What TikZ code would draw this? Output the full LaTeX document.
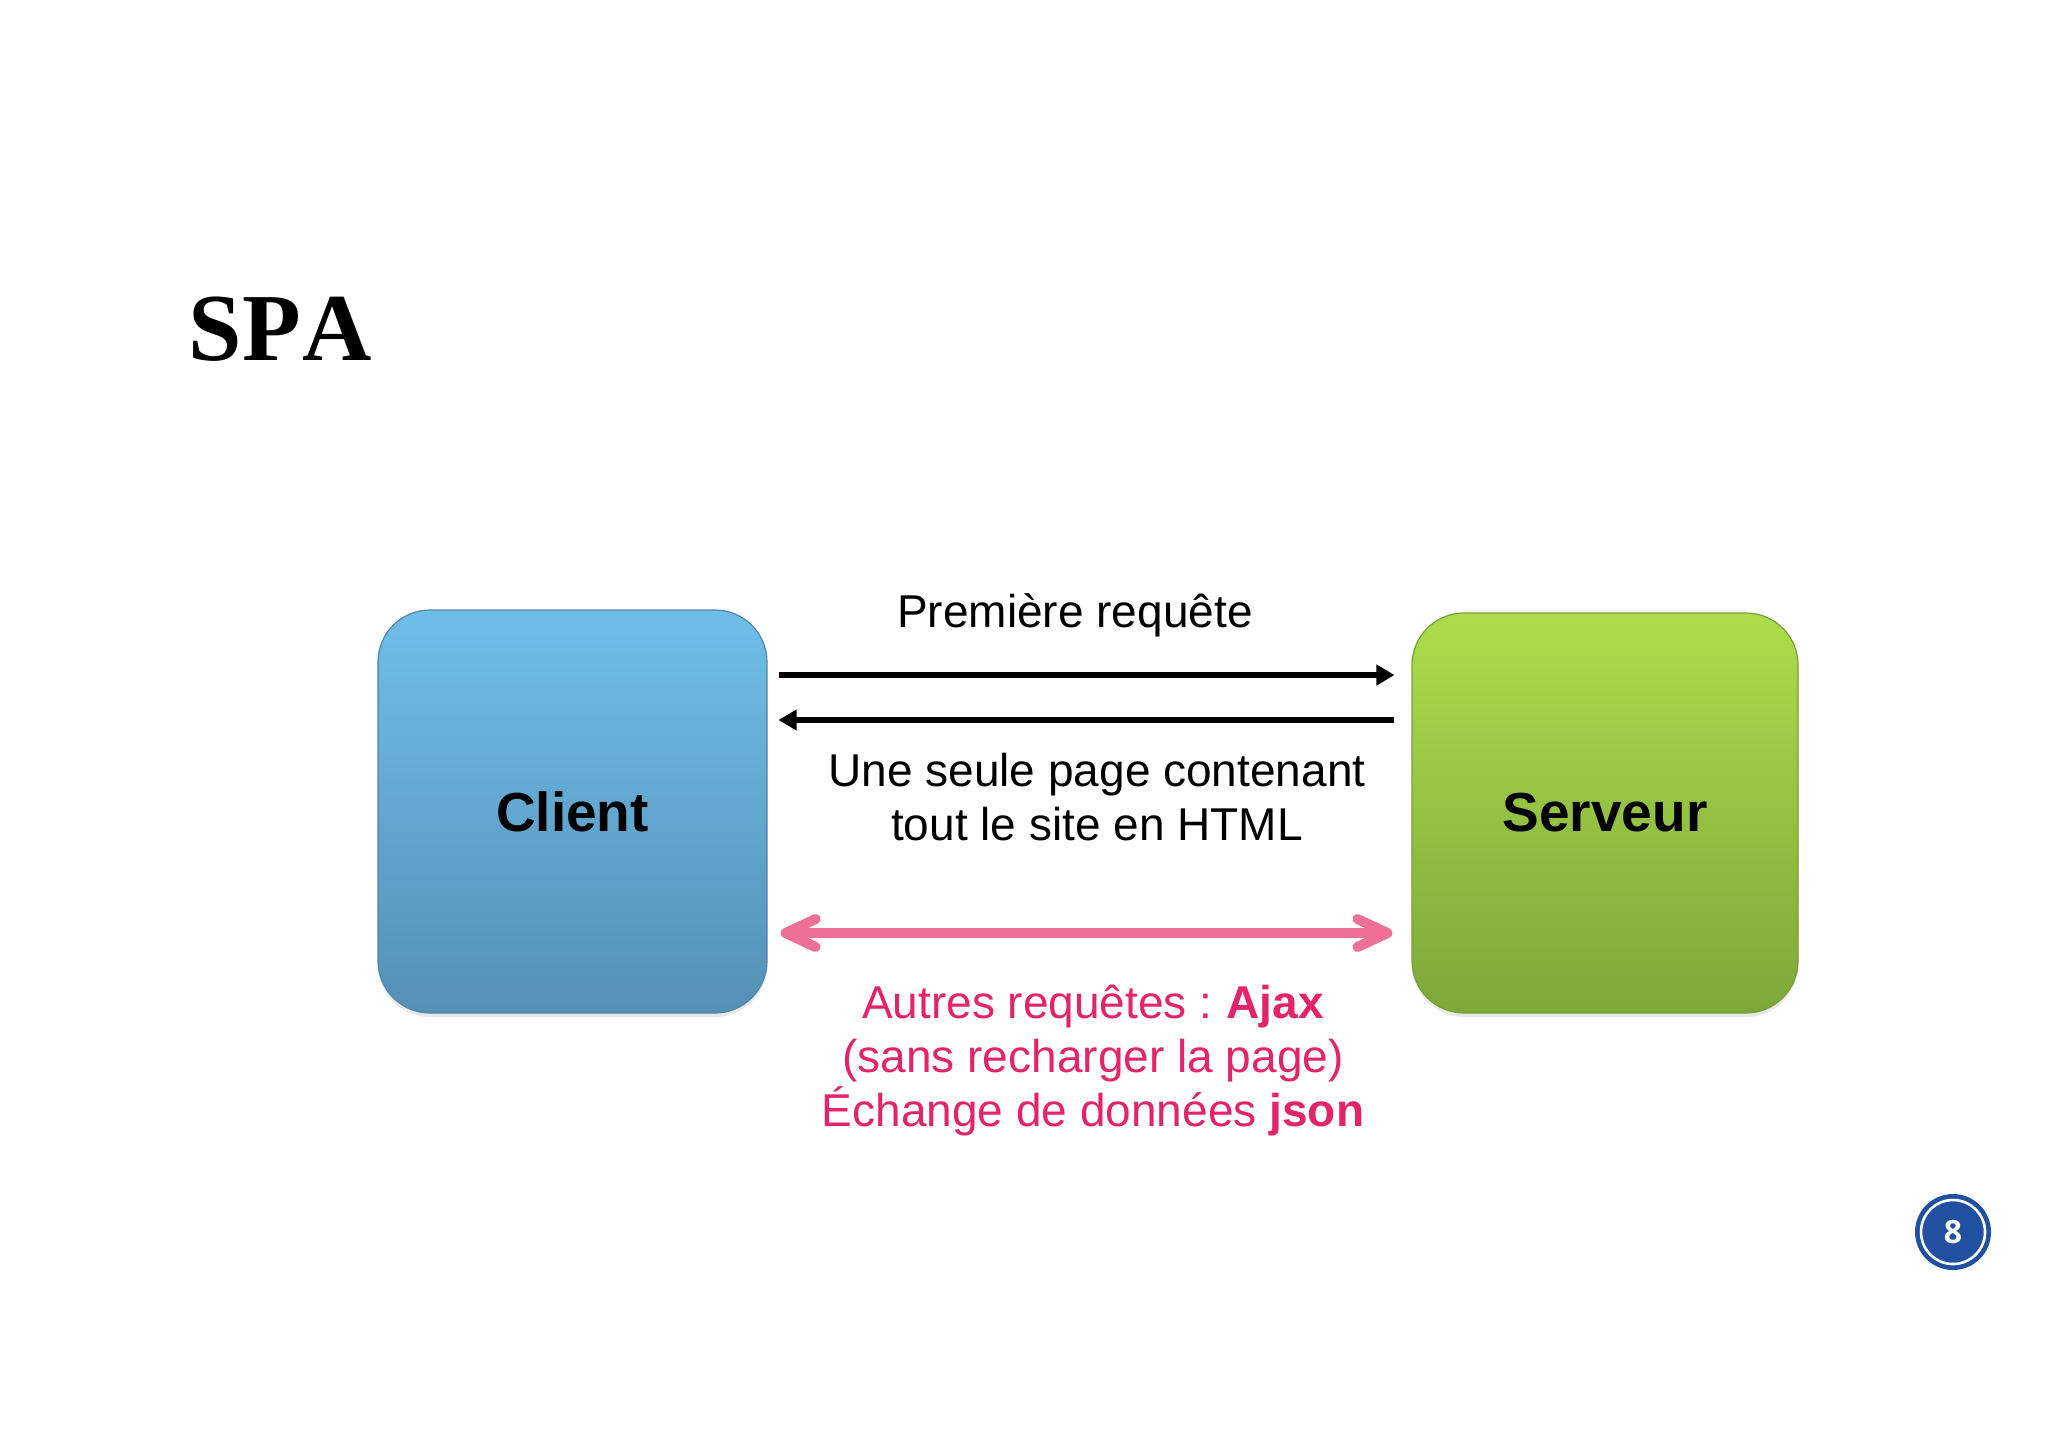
\documentclass[tikz,border=0pt]{standalone}
\usepackage{fontspec}
\setmainfont{Liberation Sans}
\newfontfamily\titlefont{Liberation Serif}
\newfontfamily\numfont{Open Sans}
\usetikzlibrary{arrows.meta,calc,shadows}
\definecolor{clienttop}{HTML}{6EBEE9}
\definecolor{clientbot}{HTML}{5590B5}
\definecolor{clientedge}{HTML}{4E86AC}
\definecolor{servtop}{HTML}{AEDC4C}
\definecolor{servbot}{HTML}{7DA73A}
\definecolor{servedge}{HTML}{76A036}
\definecolor{pinkline}{HTML}{EE6F97}
\definecolor{pinktext}{HTML}{E3246A}
\definecolor{pageblue}{HTML}{2150A0}
\tikzset{
  box/.style={rectangle, rounded corners=26pt, inner sep=0pt, line width=0.6pt,
    font=\fontsize{27.5}{30}\selectfont\bfseries,
    drop shadow={opacity=0.18, shadow xshift=0pt, shadow yshift=-2pt}},
  blackarrow/.style={line width=3.2pt, -{Triangle[length=9pt,width=10pt]}},
  pinkarrow/.style={line width=5pt, draw=pinkline, {Straight Barb[length=15pt,width=14pt,round]}-{Straight Barb[length=15pt,width=14pt,round]}},
  lbl/.style={font=\fontsize{23}{26}\selectfont, anchor=base, inner sep=0pt},
}
\begin{document}
\begin{tikzpicture}[x=0.5pt,y=-0.5pt]
\useasboundingbox (0,0) rectangle (2048,1447);
\fill[white] (0,0) rectangle (2048,1447);
% title
\node[anchor=base west, inner sep=0pt, font=\fontsize{48}{52}\selectfont\titlefont\bfseries] (title) at (188,360) {S\kern0.5ptP\kern0.5ptA};
% boxes
\node[box, minimum width=194.5pt, minimum height=201.5pt, top color=clienttop, bottom color=clientbot, draw=clientedge] (client) at (572.5,811.5) {Client};
\node[box, minimum width=193pt, minimum height=200pt, top color=servtop, bottom color=servbot, draw=servedge] (server) at (1605,813) {Serveur};
% arrows
\draw[blackarrow] ($(client.east)+(11,-136.5)$) -- ($(server.west)+(-17,-138)$);
\draw[blackarrow] ($(server.west)+(-17,-93)$) -- ($(client.east)+(11,-91.5)$);
\draw[pinkarrow] ($(client.east)+(13,121.5)$) -- ($(server.west)+(-19,120)$);
% labels
\node[lbl] (req1) at (1075,627) {Première requête};
\node[lbl] (resp1) at (1097,786) {Une seule page contenant};
\node[lbl] (resp2) at (1097,840) {tout le site en HTML};
\node[lbl, text=pinktext] (ajax1) at (1093,1018) {Autres requêtes :\kern-1.5pt{} \textbf{Ajax}};
\node[lbl, text=pinktext] (ajax2) at (1093,1072) {(sans recharger la page)};
\node[lbl, text=pinktext] (ajax3) at (1093,1126) {Échange de données \textbf{json}};
% page number
\node[circle, fill=pageblue, minimum size=38pt, inner sep=0pt] (pg) at (1953,1232) {};
\draw[white, line width=1.3pt] (pg.center) circle (16pt);
\node[text=white, font=\fontsize{16}{18}\selectfont\numfont\bfseries] (pgnum) at (pg.center) {8};
\end{tikzpicture}
\end{document}
